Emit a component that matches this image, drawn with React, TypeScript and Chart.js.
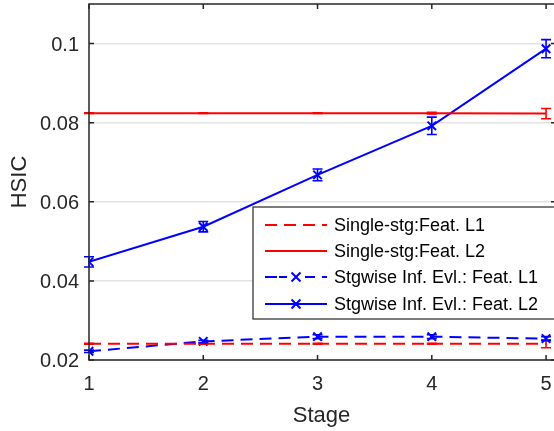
import { useEffect, useRef } from "react";
import { Chart, registerables } from "chart.js";

Chart.register(...registerables);

// ---- data ----
const stages = [1, 2, 3, 4, 5];
const xTicks = [1, 2, 3, 4, 5];
const xTickLabels = ["1", "2", "3", "4", "5"];
const yTicks = [0.02, 0.04, 0.06, 0.08, 0.1];
const yTickLabels = ["0.02", "0.04", "0.06", "0.08", "0.1"];

const singleL1 = [0.0241, 0.0241, 0.0241, 0.0241, 0.0241];
const singleL1Err = [0.0001, 0.0001, 0.0001, 0.0001, 0.001];
const singleL2 = [0.0824, 0.0824, 0.0824, 0.0824, 0.0823];
const singleL2Err = [0.0001, 0.0001, 0.0001, 0.0002, 0.0013];
const stgL1 = [0.0222, 0.0247, 0.0259, 0.0259, 0.0254];
const stgL1Err = [0.0003, 0.0003, 0.0005, 0.0005, 0.0005];
const stgL2 = [0.0448, 0.0537, 0.0668, 0.0792, 0.0987];
const stgL2Err = [0.0013, 0.0013, 0.0015, 0.0022, 0.0023];

const seriesLabels = [
  "Single-stg:Feat. L1",
  "Single-stg:Feat. L2",
  "Stgwise Inf. Evl.: Feat. L1",
  "Stgwise Inf. Evl.: Feat. L2",
];
const xTitle = "Stage";
const yTitle = "HSIC";

const FONT = "'Liberation Sans', Arial, Helvetica, sans-serif";
const AXIS = "#262626";
const RED = "#ff0000";
const BLUE = "#0000ff";
const DASH = [12, 7];

const errors = [singleL1Err, singleL2Err, stgL1Err, stgL2Err];

const pts = (ys: number[]) => stages.map((x, i) => ({ x, y: ys[i] }));

function drawCross(ctx: CanvasRenderingContext2D, x: number, y: number, r: number) {
  ctx.beginPath();
  ctx.moveTo(x - r, y - r);
  ctx.lineTo(x + r, y + r);
  ctx.moveTo(x - r, y + r);
  ctx.lineTo(x + r, y - r);
  ctx.stroke();
}

const decorPlugin = {
  id: "decor",
  afterDatasetsDraw(chart: any) {
    const ctx: CanvasRenderingContext2D = chart.ctx;
    const xs = chart.scales.x;
    const ys = chart.scales.y;
    ctx.save();
    chart.data.datasets.forEach((ds: any, i: number) => {
      const err = errors[i];
      ctx.strokeStyle = ds.borderColor;
      ctx.lineWidth = 1.6;
      ctx.setLineDash([]);
      ds.data.forEach((p: any, j: number) => {
        const x = xs.getPixelForValue(p.x);
        const yt = ys.getPixelForValue(p.y + err[j]);
        const yb = ys.getPixelForValue(p.y - err[j]);
        ctx.beginPath();
        ctx.moveTo(x, yt);
        ctx.lineTo(x, yb);
        ctx.moveTo(x - 5, yt);
        ctx.lineTo(x + 5, yt);
        ctx.moveTo(x - 5, yb);
        ctx.lineTo(x + 5, yb);
        ctx.stroke();
      });
    });
    ctx.restore();
  },
  afterDraw(chart: any) {
    const ctx: CanvasRenderingContext2D = chart.ctx;
    const a = chart.chartArea;
    const xs = chart.scales.x;
    const ys = chart.scales.y;
    ctx.save();
    // frame
    ctx.strokeStyle = AXIS;
    ctx.lineWidth = 1.5;
    ctx.setLineDash([]);
    ctx.strokeRect(a.left, a.top, a.right - a.left, a.bottom - a.top);
    // tick marks (inward)
    const tl = 5;
    ctx.beginPath();
    xTicks.forEach((v) => {
      const x = xs.getPixelForValue(v);
      ctx.moveTo(x, a.bottom);
      ctx.lineTo(x, a.bottom - tl);
      ctx.moveTo(x, a.top);
      ctx.lineTo(x, a.top + tl);
    });
    yTicks.forEach((v) => {
      const y = ys.getPixelForValue(v);
      ctx.moveTo(a.left, y);
      ctx.lineTo(a.left + tl, y);
      ctx.moveTo(a.right, y);
      ctx.lineTo(a.right - tl, y);
    });
    ctx.stroke();

    // tick labels
    ctx.fillStyle = AXIS;
    ctx.font = `20px ${FONT}`;
    ctx.textAlign = "center";
    ctx.textBaseline = "alphabetic";
    xTicks.forEach((v, i) => {
      ctx.fillText(xTickLabels[i], xs.getPixelForValue(v), a.bottom + 30);
    });
    ctx.textAlign = "right";
    yTicks.forEach((v, i) => {
      ctx.fillText(yTickLabels[i], a.left - 10, ys.getPixelForValue(v) + 7);
    });

    // axis titles
    ctx.font = `22px ${FONT}`;
    ctx.textAlign = "center";
    ctx.fillText(xTitle, (a.left + a.right) / 2 - 1, 422);
    ctx.save();
    ctx.translate(26, (a.top + a.bottom) / 2);
    ctx.rotate(-Math.PI / 2);
    ctx.fillText(yTitle, 0, 0);
    ctx.restore();

    // legend
    const lx = 253, ly = 207, lw = 400, lh = 112;
    ctx.fillStyle = "#ffffff";
    ctx.fillRect(lx, ly, lw, lh);
    ctx.strokeStyle = AXIS;
    ctx.lineWidth = 1.2;
    ctx.strokeRect(lx, ly, lw, lh);
    const rows = [225, 251, 277, 304];
    chart.data.datasets.forEach((ds: any, i: number) => {
      const y = rows[i];
      ctx.strokeStyle = ds.borderColor;
      ctx.lineWidth = 2;
      ctx.setLineDash(ds.borderDash || []);
      ctx.beginPath();
      ctx.moveTo(265, y);
      ctx.lineTo(327, y);
      ctx.stroke();
      ctx.setLineDash([]);
      if (ds.pointRadius > 0) {
        if (ds.borderDash) {
          ctx.fillStyle = "#ffffff";
          ctx.fillRect(284, y - 6, 24, 12);
          ctx.beginPath();
          ctx.moveTo(279, y); ctx.lineTo(287, y);
          ctx.moveTo(305, y); ctx.lineTo(313, y);
          ctx.stroke();
        }
        ctx.lineWidth = 2;
        drawCross(ctx, 296, y, 4.5);
      }
      ctx.fillStyle = "#000000";
      ctx.font = `18px ${FONT}`;
      ctx.textAlign = "left";
      ctx.textBaseline = "middle";
      ctx.fillText(seriesLabels[i], 334, y + 1);
    });
    ctx.restore();
  },
};

export default function App() {
  const ref = useRef<HTMLCanvasElement | null>(null);
  useEffect(() => {
    document.body.style.margin = "0";
    const canvas = ref.current!;
    const chart = new Chart(canvas, {
      type: "line",
      data: {
        datasets: [
          {
            label: seriesLabels[0],
            data: pts(singleL1),
            borderColor: RED,
            backgroundColor: RED,
            borderWidth: 2,
            borderDash: DASH,
            pointRadius: 0,
          },
          {
            label: seriesLabels[1],
            data: pts(singleL2),
            borderColor: RED,
            backgroundColor: RED,
            borderWidth: 2,
            pointRadius: 0,
          },
          {
            label: seriesLabels[2],
            data: pts(stgL1),
            borderColor: BLUE,
            backgroundColor: BLUE,
            borderWidth: 2,
            borderDash: DASH,
            pointStyle: "crossRot",
            pointRadius: 6,
            pointBorderWidth: 2,
          },
          {
            label: seriesLabels[3],
            data: pts(stgL2),
            borderColor: BLUE,
            backgroundColor: BLUE,
            borderWidth: 2,
            pointStyle: "crossRot",
            pointRadius: 6,
            pointBorderWidth: 2,
          },
        ] as any,
      },
      options: {
        animation: false,
        responsive: false,
        maintainAspectRatio: false,
        layout: { autoPadding: false, padding: { top: 4, right: 2, left: 0, bottom: 0 } },
        plugins: { legend: { display: false }, tooltip: { enabled: false } },
        scales: {
          x: {
            type: "linear",
            min: 1,
            max: 5.087,
            afterBuildTicks: (s: any) => {
              s.ticks = xTicks.map((v) => ({ value: v }));
            },
            afterFit: (s: any) => {
              s.height = 71;
            },
            ticks: { display: false },
            grid: { display: false, drawTicks: false },
            border: { display: false },
          },
          y: {
            type: "linear",
            min: 0.02,
            max: 0.11,
            afterBuildTicks: (s: any) => {
              s.ticks = yTicks.map((v) => ({ value: v }));
            },
            afterFit: (s: any) => {
              s.width = 89;
            },
            ticks: { display: false },
            grid: { color: "#e3e3e3", lineWidth: 1.5, drawTicks: false },
            border: { display: false },
          },
        },
      } as any,
      plugins: [decorPlugin],
    });
    return () => chart.destroy();
  }, []);
  return (
    <div style={{ position: "absolute", left: 0, top: 0, width: 554, height: 431, overflow: "hidden", background: "#fff" }}>
      <canvas ref={ref} width={558} height={431} style={{ width: 558, height: 431, display: "block" }} />
    </div>
  );
}
